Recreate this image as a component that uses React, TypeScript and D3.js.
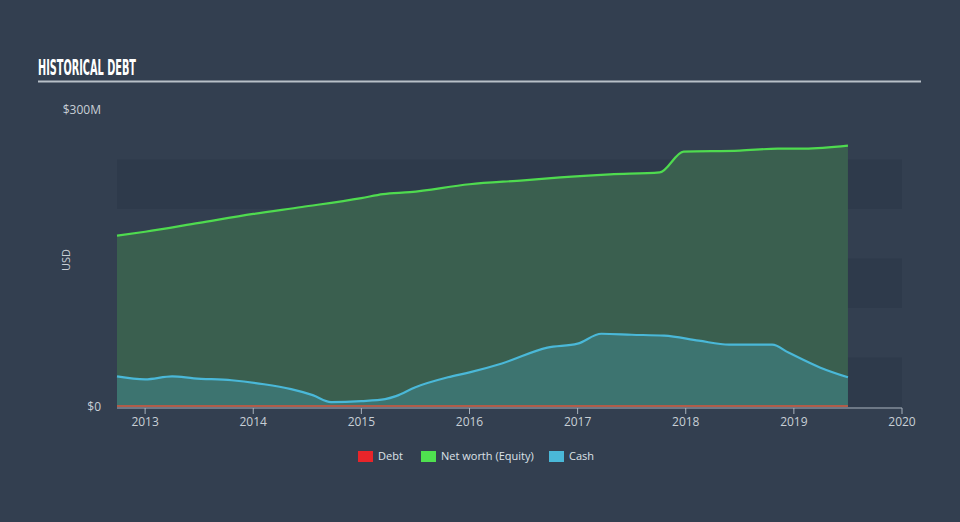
import React from "react";
import * as d3 from "d3";

const years = [2013, 2014, 2015, 2016, 2017, 2018, 2019, 2020];
const yTicks = [0, 300];
const bandStarts = [0, 100, 200];

const equityDates = [2012.74, 2013.0, 2013.5, 2014.0, 2014.45, 2015.0, 2015.2, 2015.45, 2016.0, 2016.5, 2016.84, 2017.3, 2017.76, 2017.98, 2018.5, 2018.85, 2019.1, 2019.5];
const equityValues = [173, 177, 186, 195, 202, 211, 215, 217, 225, 229, 232, 235, 237, 258, 259, 261, 261, 264];

const cashDates = [2012.74, 2013.0, 2013.25, 2013.45, 2013.8, 2014.1, 2014.35, 2014.55, 2014.72, 2015.0, 2015.22, 2015.32, 2015.5, 2015.8, 2016.0, 2016.3, 2016.72, 2017.0, 2017.22, 2017.5, 2017.8, 2018.12, 2018.4, 2018.8, 2018.95, 2019.24, 2019.5];
const cashValues = [31, 28, 31, 29, 27, 23, 18, 12, 5, 6, 8, 11, 20, 30, 35, 44, 60, 64, 74, 73, 72, 67, 63, 63, 55, 40, 30];

const debtDates = [2012.74, 2019.5];
const debtValues = [1, 1];

export default function App() {
  const W = 960, H = 522;
  const x = d3.scaleLinear().domain([2012.74, 2020]).range([117, 902]);
  const y = d3.scaleLinear().domain([0, 300]).range([407, 110]);

  const mk = (dates: number[], vals: number[]) => dates.map((d, i) => [d, vals[i]] as [number, number]);
  const eq = mk(equityDates, equityValues);
  const cash = mk(cashDates, cashValues);
  const debt = mk(debtDates, debtValues);

  const area = d3.area<[number, number]>().x(d => x(d[0])).y0(y(0)).y1(d => y(d[1])).curve(d3.curveMonotoneX);
  const line = d3.line<[number, number]>().x(d => x(d[0])).y(d => y(d[1])).curve(d3.curveMonotoneX);

  const font = "'Open Sans', sans-serif";

  return (
    <svg width={W} height={H} style={{ position: "absolute", left: 0, top: 0, display: "block" }}>
      <rect x={0} y={0} width={W} height={H} fill="#333f50" />
      <text x={38} y={75} fill="#ffffff" fontFamily="'DejaVu Sans Condensed', 'Liberation Sans Narrow', sans-serif" fontWeight="bold" fontSize={22} textLength={98} lengthAdjust="spacingAndGlyphs">HISTORICAL DEBT</text>
      <line x1={38} x2={921} y1={81.5} y2={81.5} stroke="#b8c0c8" strokeWidth={2} />

      {bandStarts.map(b => (
        <rect key={b} x={x(2012.74)} width={x(2020) - x(2012.74)} y={y(b + 50)} height={y(b) - y(b + 50)} fill="#2e3a4b" />
      ))}

      <path d={area(eq) || ""} fill="#3a5f4f" />
      <path d={area(cash) || ""} fill="#3d7470" />
      <path d={line(eq) || ""} fill="none" stroke="#4fdb4f" strokeWidth={2.2} />
      <path d={line(cash) || ""} fill="none" stroke="#4ab8d8" strokeWidth={2.2} />
      <path d={line(debt) || ""} fill="none" stroke="#d9553c" strokeWidth={1.5} />

      <line x1={117} x2={902} y1={408} y2={408} stroke="#a8b2bc" strokeWidth={1.2} />
      {years.map(yr => (
        <g key={yr}>
          <line x1={x(yr)} x2={x(yr)} y1={408} y2={414} stroke="#a8b2bc" strokeWidth={1} />
          <text x={x(yr)} y={426} textAnchor="middle" fill="#c8cfd6" fontFamily={font} fontSize={12}>{yr}</text>
        </g>
      ))}

      {yTicks.map(t => (
        <text key={t} x={101} y={y(t) + 4} textAnchor="end" fill="#c8cfd6" fontFamily={font} fontSize={12}>{t === 0 ? "$0" : `$${t}M`}</text>
      ))}
      <text transform="translate(70,260) rotate(-90)" textAnchor="middle" fill="#c8cfd6" fontFamily={font} fontSize={11}>USD</text>

      <g fontFamily={font} fontSize={11} fill="#dde2e8">
        <rect x={358} y={451} width={15} height={11} fill="#e8252a" />
        <text x={378} y={460}>Debt</text>
        <rect x={421} y={451} width={15} height={11} fill="#4fe04f" />
        <text x={441} y={460}>Net worth (Equity)</text>
        <rect x={549} y={451} width={15} height={11} fill="#4ab8d8" />
        <text x={569} y={460}>Cash</text>
      </g>
    </svg>
  );
}
